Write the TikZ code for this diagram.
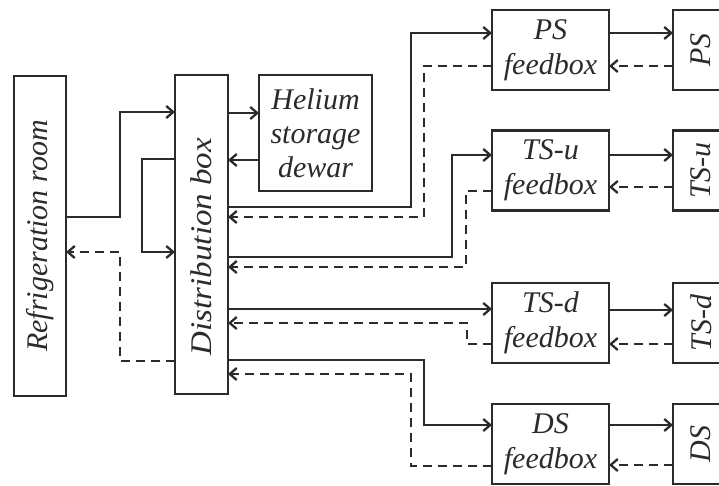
\documentclass[tikz,border=0pt]{standalone}
\usepackage{fontspec}
\setmainfont{Liberation Serif}
\usetikzlibrary{arrows.meta}
\definecolor{ink}{HTML}{2B2B2B}
\begin{document}
\begin{tikzpicture}[x=1pt,y=-1pt,
  line width=2.3pt, draw=ink,
  >={Straight Barb[length=7pt,width=12pt]},
  lbl/.style={font=\fontsize{30}{35}\selectfont\itshape, text=ink},
  box/.style={draw=ink, line width=2.6pt, inner sep=0pt, outer sep=0pt, fill=white,
    lbl, align=center},
  fb/.style={dash pattern=on 9pt off 6pt}]
\useasboundingbox (0,0) rectangle (719,485);
\node[box, minimum width=52pt, minimum height=320pt] (refrig) at (40,236) {};
\node[rotate=90, lbl] at (refrig) {Refrigeration room};
\node[box, minimum width=53pt, minimum height=319pt] (dist) at (201.5,234.5) {};
\node[rotate=90, xscale=1.1, lbl] at ([yshift=-12pt]dist.center) {Distribution box};
\node[box, minimum width=113pt, minimum height=116pt, font=\fontsize{30}{34}\selectfont\itshape] (he) at (315.5,133) {Helium\\storage\\dewar};

\foreach \n/\t/\y in {ps/PS/50, tsu/TS-u/170.5, tsd/TS-d/323, ds/DS/444}{
  \node[box, minimum width=117pt, minimum height=80pt] (\n fb) at (550.5,\y) {\t\\feedbox};
  \node[box, minimum width=56pt, minimum height=80pt] (\n) at (701,\y) {};
  \node[rotate=90, lbl] at (\n) {\t};
}

% refrigeration <-> distribution
\draw[->] (refrig.east |- 0,217) -- (120,217) -- (120,112) -- (dist.west |- 0,112);
\draw[->] (dist.west |- 0,159) -- (142,159) -- (142,252) -- (dist.west |- 0,252);
\draw[->,fb] (dist.west |- 0,361) -- (120,361) -- (120,252) -- (refrig.east |- 0,252);

% distribution <-> helium
\draw[->] (dist.east |- 0,113) -- (he.west |- 0,113);
\draw[->] (he.west |- 0,160) -- (dist.east |- 0,160);

% PS
\draw[->] (dist.east |- 0,207) -- (411,207) -- (411,33) -- (psfb.west |- 0,33);
\draw[->,fb] (psfb.west |- 0,66) -- (424,66) -- (424,217) -- (dist.east |- 0,217);
% TS-u
\draw[->] (dist.east |- 0,257) -- (452,257) -- (452,155) -- (tsufb.west |- 0,155);
\draw[->,fb] (tsufb.west |- 0,191) -- (466,191) -- (466,267) -- (dist.east |- 0,267);
% TS-d
\draw[->] (dist.east |- 0,309) -- (tsdfb.west |- 0,309);
\draw[->,fb] (tsdfb.west |- 0,344) -- (467,344) -- (467,323) -- (dist.east |- 0,323);
% DS
\draw[->] (dist.east |- 0,360) -- (424,360) -- (424,425) -- (dsfb.west |- 0,425);
\draw[->,fb] (dsfb.west |- 0,466) -- (411,466) -- (411,374) -- (dist.east |- 0,374);

% feedbox <-> magnets
\draw[->] (psfb.east |- 0,33) -- (ps.west |- 0,33);
\draw[->,fb] (ps.west |- 0,66) -- (psfb.east |- 0,66);
\draw[->] (tsufb.east |- 0,155) -- (tsu.west |- 0,155);
\draw[->,fb] (tsu.west |- 0,187) -- (tsufb.east |- 0,187);
\draw[->] (tsdfb.east |- 0,310) -- (tsd.west |- 0,310);
\draw[->,fb] (tsd.west |- 0,344) -- (tsdfb.east |- 0,344);
\draw[->] (dsfb.east |- 0,425) -- (ds.west |- 0,425);
\draw[->,fb] (ds.west |- 0,465) -- (dsfb.east |- 0,465);
\end{tikzpicture}
\end{document}
